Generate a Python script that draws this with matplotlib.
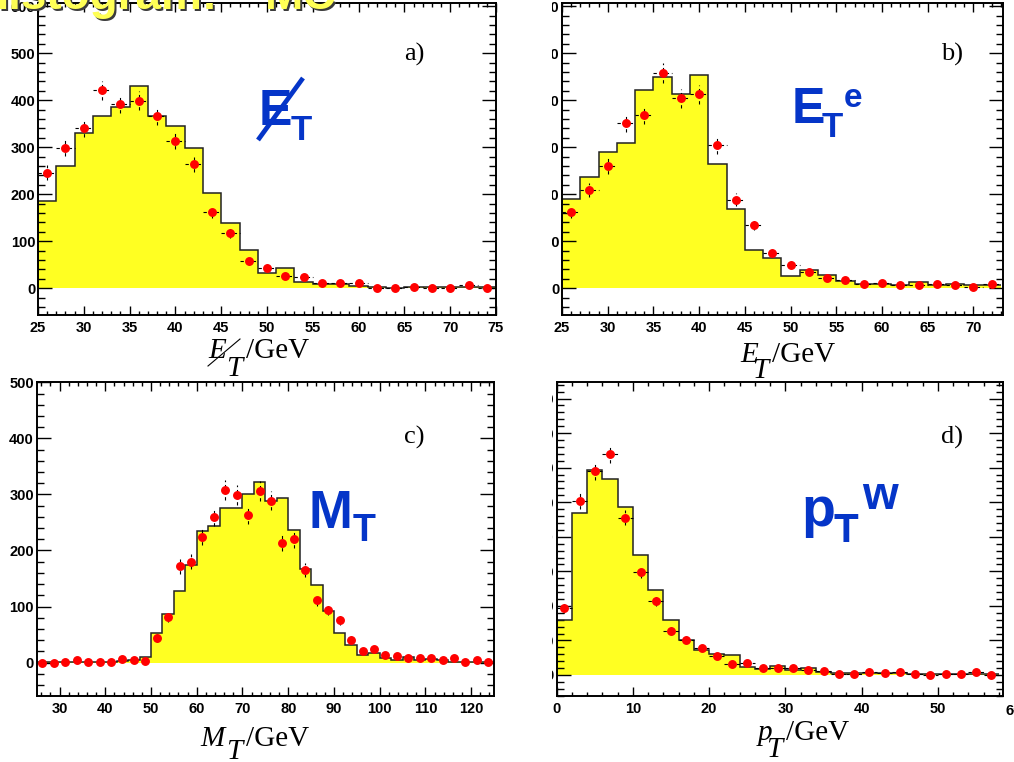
import matplotlib
matplotlib.use('Agg')
import matplotlib.pyplot as plt
import numpy as np
from matplotlib.ticker import MultipleLocator
from matplotlib.patches import Rectangle
from matplotlib.lines import Line2D

# Data -------------------------------------------------------------------------
# a) missing E_T, bins of 2 GeV from 25
a_lo, a_w = 25, 2
a_mc = [186, 261, 330, 366, 385, 431, 367, 345, 299, 202, 138, 82, 33, 44, 14,
        10, 10, 4, 2, 0, 2, 2, 2, 2, 2]
a_data = [246, 299, 341, 421, 392, 399, 367, 313, 264, 163, 118, 57, 44, 26, 23,
          11, 11, 12, 1, 0, 2, 1, 1, 6, 1]

# b) electron E_T, bins of 2 GeV from 25
b_lo, b_w = 25, 2
b_mc = [190, 236, 289, 309, 421, 450, 414, 453, 265, 168, 81, 64, 26, 39, 28,
        16, 9, 8, 6, 13, 6, 10, 6, 6]
b_data = [162, 209, 260, 351, 368, 458, 404, 413, 304, 188, 135, 74, 50, 35, 21,
          18, 9, 11, 6, 6, 9, 6, 2, 8]

# c) transverse mass, bins of 2.5 GeV from 25
c_lo, c_w = 25, 2.5
c_mc = [1, 2, 2, 2, 2, 2, 2, 3, 4, 10,
        53, 86, 128, 175, 234, 244, 275, 275, 301, 323,
        288, 293, 237, 167, 139, 92, 53, 31, 13, 17,
        8, 5, 10, 4, 6, 4, 1, 1, 1, 1]
c_data = [0, 0, 1, 5, 1, 1, 1, 6, 5, 3,
          44, 82, 172, 180, 224, 260, 308, 299, 263, 306,
          289, 214, 220, 165, 112, 94, 76, 41, 21, 25,
          14, 11, 9, 8, 8, 5, 8, 2, 5, 1]

# d) W transverse momentum, bins of 2 GeV from 0
d_lo, d_w = 0, 2
d_mc = [158, 470, 593, 567, 485, 347, 247, 159, 100, 71, 61, 58, 23, 18, 27,
        14, 19, 10, 7, 5, 7, 7, 7, 2, 2, 2, 2, 2, 2]
d_data = [193, 503, 590, 639, 455, 299, 214, 128, 102, 79, 55, 32, 36, 19, 19,
          21, 13, 11, 3, 3, 9, 7, 10, 3, 0, 3, 2, 9, 0]

# Style ------------------------------------------------------------------------
W, H = 1014, 762
YELLOW = '#ffff22'
BLUE = '#0535c8'
SERIF = 'Liberation Serif'
plt.rcParams['font.family'] = ['Liberation Sans', 'DejaVu Sans']


def px(x, y):
    return x / W, 1 - y / H


def make_axes(fig, l, t, r, b):
    return fig.add_axes([l / W, 1 - b / H, (r - l) / W, (b - t) / H])


def draw_panel(ax, lo, w, mc, data, xlim, ylim, xmaj, xmin, xerr=True):
    mc = np.array(mc, float)
    data = np.array(data, float)
    edges = lo + w * np.arange(len(mc) + 1)
    centers = lo + w * (np.arange(len(data)) + 0.5)
    ax.stairs(mc, edges, fill=True, color=YELLOW, baseline=0, lw=0, zorder=1)
    ax.stairs(mc, edges, color='#222222', lw=1.1, baseline=None, zorder=2)
    eb = ax.errorbar(centers, data, yerr=np.sqrt(data),
                     xerr=(w / 2 if xerr else None), fmt='o', ms=5.4,
                     mfc='#ff0000', mec='#ff0000', ecolor='k', elinewidth=0.8,
                     capsize=0, zorder=3)
    for lc in eb[2]:
        lc.set_linestyle((0, (3, 2.5)))
    ax.set_xlim(*xlim)
    ax.set_ylim(*ylim)
    ax.xaxis.set_major_locator(MultipleLocator(xmaj))
    ax.xaxis.set_minor_locator(MultipleLocator(xmin))
    ax.yaxis.set_major_locator(MultipleLocator(100))
    ax.yaxis.set_minor_locator(MultipleLocator(20))
    ax.tick_params(which='both', direction='in', top=True, right=True,
                   labelsize=10.5, width=1, colors='k')
    ax.tick_params(axis='x', which='major', length=6.5, pad=4.5)
    ax.tick_params(axis='x', which='minor', length=3.2)
    ax.tick_params(axis='y', which='major', length=10, pad=2)
    ax.tick_params(axis='y', which='minor', length=5)
    for lab in ax.get_xticklabels() + ax.get_yticklabels():
        lab.set_fontweight('bold')
    for s in ax.spines.values():
        s.set_linewidth(1.4)


def axis_title(fig, main, x_main, x_sub, x_unit, base, drop, slash=False):
    # ROOT-like title: italic letter, big low subscript T, then /GeV
    fig.text(*px(x_main, base), main, fontsize=21, family=SERIF,
             style='italic', ha='left', va='baseline')
    fig.text(*px(x_sub, base + drop), 'T', fontsize=21, family=SERIF,
             style='italic', ha='left', va='baseline')
    fig.text(*px(x_unit, base), '/GeV', fontsize=21, family=SERIF,
             ha='left', va='baseline')
    if slash:
        fig.lines.append(Line2D([(x_main) / W, (x_main + 32) / W],
                                [1 - (base + 8) / H, 1 - (base - 19) / H],
                                transform=fig.transFigure, color='k', lw=0.8))


fig = plt.figure(figsize=(W / 100, H / 100), dpi=100)
fig.patch.set_facecolor('white')

ax_a = make_axes(fig, 38, 3, 496, 315)
draw_panel(ax_a, a_lo, a_w, a_mc, a_data, (25, 75), (-57, 607), 5, 1)
ax_b = make_axes(fig, 562, 3, 1002.7, 315)
draw_panel(ax_b, b_lo, b_w, b_mc, b_data, (25, 73.2), (-57, 607), 5, 1)
ax_c = make_axes(fig, 36.7, 382.3, 494, 695.7)
draw_panel(ax_c, c_lo, c_w, c_mc, c_data, (25, 125), (-59, 500), 10, 2,
           xerr=False)
ax_d = make_axes(fig, 556.7, 382, 1002.7, 695.7)
draw_panel(ax_d, d_lo, d_w, d_mc, d_data, (0, 58.5), (-60, 848), 10, 2)

# y labels of the right panels are hidden behind the left pictures
for y0, y1 in [(0, 322), (376, 700)]:
    fig.patches.append(Rectangle(px(500, y1), 52 / W, (y1 - y0) / H,
                                 transform=fig.transFigure, facecolor='white',
                                 edgecolor='none', zorder=2.5))
fig.text(*px(1014, 711), '60', ha='center', va='center', fontsize=10.5,
         fontweight='bold')

# panel letters
for (x, y), s in zip([(414, 61), (952, 61), (414, 444), (952, 444)],
                     ['a)', 'b)', 'c)', 'd)']):
    fig.text(*px(x, y), s, ha='center', va='baseline', fontsize=19,
             family=SERIF)

# axis titles
axis_title(fig, 'E', 208, 226, 246, 358, 18, slash=True)
axis_title(fig, 'E', 740, 752, 772, 362, 16)
axis_title(fig, 'M', 200, 226, 246, 746, 13)
axis_title(fig, 'p', 758, 766, 786, 740, 17)

# big blue labels
big = dict(color=BLUE, fontweight='bold', ha='left', va='baseline')
fig.text(*px(259, 125), 'E', fontsize=36, **big)
fig.text(*px(291, 140), 'T', fontsize=25, **big)
fig.lines.append(Line2D([258 / W, 303 / W], [1 - 140 / H, 1 - 78 / H],
                        transform=fig.transFigure, color=BLUE, lw=3.4,
                        solid_capstyle='butt', zorder=4))
fig.text(*px(792, 123), 'E', fontsize=36, **big)
fig.text(*px(822, 137), 'T', fontsize=25, **big)
fig.text(*px(844, 107), 'e', fontsize=24, **big)
fig.text(*px(308, 528), 'M', fontsize=38, **big)
fig.text(*px(353, 541), 'T', fontsize=27, **big)
fig.text(*px(801, 526), 'p', fontsize=40, **big)
fig.text(*px(834, 542), 'T', fontsize=29, **big)
fig.text(*px(862, 509), 'w', fontsize=33, **big)

# clipped slide title
for dx, col in [(2, '#3c3c3c'), (0, '#ffff55')]:
    fig.text(*px(-24 + dx, 9 + dx), 'Histogram:', fontsize=33,
             fontweight='bold', color=col, ha='left', va='baseline', zorder=5)
    fig.text(*px(265 + dx, 9 + dx), 'MC', fontsize=33,
             fontweight='bold', color=col, ha='left', va='baseline', zorder=5)

fig.savefig('out.png', dpi=100, facecolor='white')
